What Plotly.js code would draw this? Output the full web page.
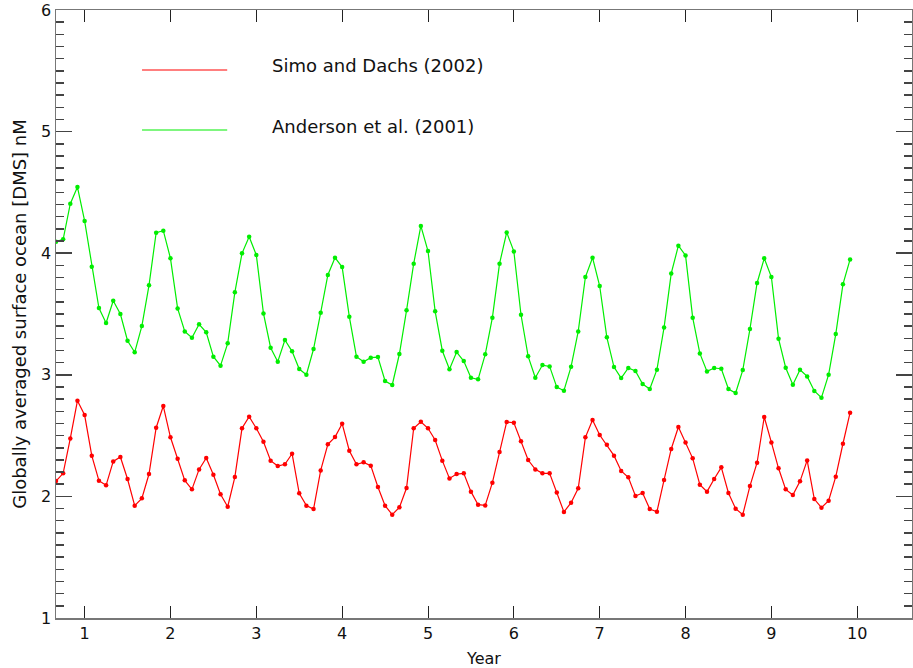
<!DOCTYPE html>
<html>
<head>
<meta charset="utf-8">
<script src="https://cdn.plot.ly/plotly-3.0.1.min.js"></script>
<style>html,body{margin:0;padding:0;background:#fff;}#chart{width:913px;height:668px;}</style>
</head>
<body>
<div id="chart"></div>
<script>
// Monthly globally averaged surface ocean DMS (nM), starting at year 0.6667
const startYear = 0.6667;
const monthStep = 1 / 12;

const simoDachs = [
  2.126, 2.190, 2.477, 2.787, 2.669, 2.335, 2.129, 2.091, 2.288, 2.324, 2.143, 1.924,
  1.984, 2.184, 2.565, 2.743, 2.486, 2.310, 2.132, 2.058, 2.222, 2.316, 2.178, 2.017,
  1.915, 2.159, 2.560, 2.656, 2.560, 2.450, 2.294, 2.250, 2.264, 2.351, 2.025, 1.924,
  1.896, 2.214, 2.428, 2.488, 2.598, 2.376, 2.264, 2.280, 2.253, 2.077, 1.924, 1.850,
  1.910, 2.069, 2.560, 2.614, 2.560, 2.464, 2.294, 2.148, 2.184, 2.190, 2.039, 1.932,
  1.926, 2.113, 2.365, 2.612, 2.606, 2.453, 2.299, 2.222, 2.190, 2.190, 2.033, 1.872,
  1.948, 2.066, 2.486, 2.628, 2.505, 2.425, 2.335, 2.209, 2.157, 2.003, 2.028, 1.896,
  1.874, 2.135, 2.390, 2.571, 2.444, 2.313, 2.096, 2.039, 2.143, 2.239, 2.028, 1.899,
  1.850, 2.085, 2.277, 2.653, 2.444, 2.231, 2.058, 2.011, 2.124, 2.296, 1.978, 1.907,
  1.965, 2.162, 2.433, 2.688
];

const anderson = [
  4.095, 4.114, 4.407, 4.544, 4.265, 3.889, 3.549, 3.426, 3.609, 3.500, 3.280, 3.185,
  3.401, 3.736, 4.169, 4.185, 3.958, 3.546, 3.357, 3.305, 3.415, 3.349, 3.149, 3.075,
  3.259, 3.678, 3.999, 4.136, 3.985, 3.505, 3.223, 3.108, 3.286, 3.193, 3.047, 3.001,
  3.212, 3.511, 3.821, 3.963, 3.886, 3.478, 3.149, 3.108, 3.141, 3.146, 2.949, 2.916,
  3.171, 3.530, 3.914, 4.224, 4.018, 3.522, 3.198, 3.045, 3.187, 3.113, 2.976, 2.963,
  3.168, 3.470, 3.914, 4.171, 4.015, 3.494, 3.152, 2.976, 3.080, 3.069, 2.899, 2.869,
  3.067, 3.357, 3.804, 3.963, 3.730, 3.308, 3.064, 2.973, 3.056, 3.031, 2.924, 2.883,
  3.042, 3.390, 3.834, 4.062, 3.982, 3.470, 3.176, 3.028, 3.056, 3.050, 2.883, 2.850,
  3.039, 3.376, 3.755, 3.958, 3.804, 3.297, 3.058, 2.919, 3.042, 2.987, 2.867, 2.812,
  3.001, 3.335, 3.744, 3.949
];

const xTicks = [1, 2, 3, 4, 5, 6, 7, 8, 9, 10];
const xTickLabels = ["1", "2", "3", "4", "5", "6", "7", "8", "9", "10"];
const yTicks = [1, 2, 3, 4, 5, 6];
const yTickLabels = ["1", "2", "3", "4", "5", "6"];
const seriesNames = ["Simo and Dachs (2002)", "Anderson et al. (2001)"];

const years = simoDachs.map((_, i) => startYear + i * monthStep);

const FONT = "DejaVu Sans, Liberation Sans, sans-serif";

const traces = [
  {
    x: years, y: simoDachs, type: "scatter", mode: "lines+markers",
    name: seriesNames[0],
    line: {color: "#ff0000", width: 1.2},
    marker: {color: "#ff0000", size: 4.5}
  },
  {
    x: years, y: anderson, type: "scatter", mode: "lines+markers",
    name: seriesNames[1],
    line: {color: "#00ee00", width: 1.2},
    marker: {color: "#00ee00", size: 4.5}
  }
];

const layout = {
  width: 913, height: 668,
  margin: {l: 56, r: 1, t: 10, b: 50},
  paper_bgcolor: "#fff", plot_bgcolor: "#fff",
  showlegend: false,
  font: {family: FONT, size: 15, color: "#111"},
  xaxis: {
    range: [0.6667, 10.638], showgrid: false, zeroline: false,
    showline: true, linecolor: "#777", linewidth: 1.5, mirror: "ticks",
    tickmode: "array", tickvals: xTicks, ticktext: xTickLabels,
    ticks: "inside", ticklen: 12, tickcolor: "#222", tickwidth: 1,
    tickfont: {family: FONT, size: 16, color: "#111"},
    title: {text: "Year", font: {family: FONT, size: 16, color: "#111"}, standoff: 12}
  },
  yaxis: {
    range: [1, 6], showgrid: false, zeroline: false,
    showline: true, linecolor: "#777", linewidth: 1.5, mirror: "ticks",
    tickmode: "array", tickvals: yTicks, ticktext: yTickLabels,
    ticks: "inside", ticklen: 16, tickcolor: "#444", tickwidth: 1.5,
    tickfont: {family: FONT, size: 16, color: "#111"},
    minor: {dtick: 0.1, ticks: "inside", ticklen: 8, tickcolor: "#444", tickwidth: 1.5, showgrid: false},
    title: {text: "Globally averaged surface ocean [DMS] nM", font: {family: FONT, size: 18, color: "#111"}, standoff: 10}
  },
  shapes: [
    {type: "line", xref: "paper", yref: "paper", x0: 0.1005, x1: 0.2, y0: 0.9013, y1: 0.9013,
     line: {color: "#ff0000", width: 1.2}},
    {type: "line", xref: "paper", yref: "paper", x0: 0.1005, x1: 0.2, y0: 0.8026, y1: 0.8026,
     line: {color: "#00ee00", width: 1.2}}
  ],
  annotations: [
    {xref: "paper", yref: "paper", x: 0.2495, y: 0.9079, xanchor: "left", yanchor: "middle",
     text: seriesNames[0], showarrow: false, font: {family: FONT, size: 18, color: "#111"}},
    {xref: "paper", yref: "paper", x: 0.2495, y: 0.8076, xanchor: "left", yanchor: "middle",
     text: seriesNames[1], showarrow: false, font: {family: FONT, size: 18, color: "#111"}}
  ]
};

Plotly.newPlot("chart", traces, layout, {displayModeBar: false, staticPlot: true});
</script>
</body>
</html>
